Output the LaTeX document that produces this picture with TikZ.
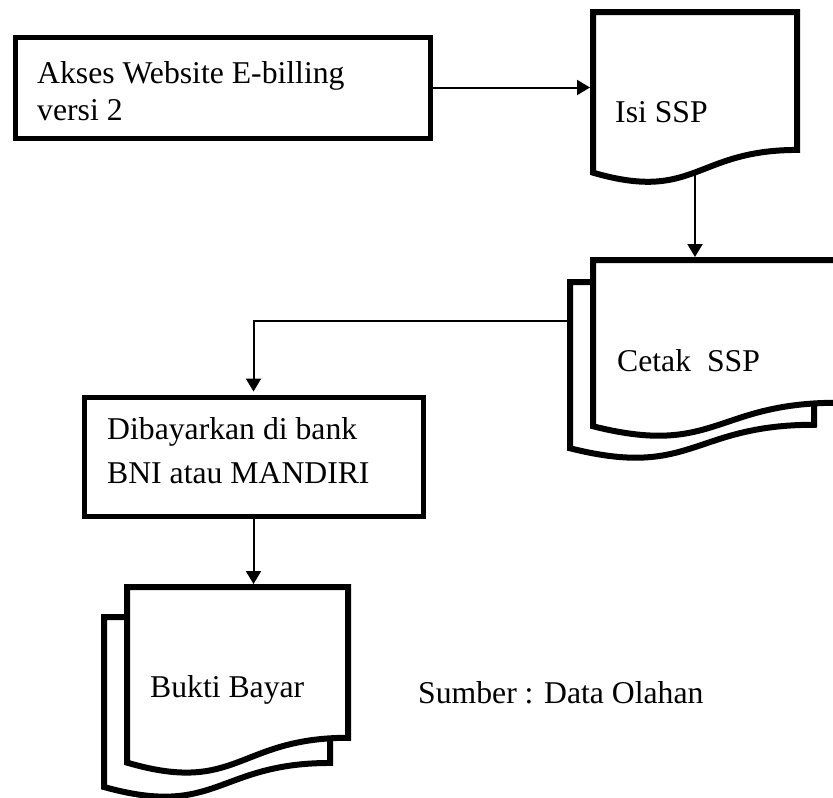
\documentclass[tikz,border=0pt]{standalone}
\usepackage{fontspec}
\setmainfont{Liberation Serif}
\usetikzlibrary{arrows.meta}

% Flowchart "document" symbol: name, left, right, top, height
\newcommand\flowdoc[5]{%
  \pgfmathsetmacro\docR{#4+0.802*#5}%
  \pgfmathsetmacro\docL{#4+0.934*#5}%
  \pgfmathsetmacro\docC{#4+1.107*#5}%
  \pgfmathsetmacro\docM{(#2+#3)/2}%
  \draw[docline] (#2,#4) coordinate (#1-nw) -- (#3,#4) coordinate (#1-ne)
    -- (#3,\docR) .. controls (\docM,\docR) and (\docM,\docC) .. (#2,\docL)
    coordinate[pos=0.5] (#1-s) -- cycle;%
}

\tikzset{
  docline/.style={draw=black, fill=white, line width=6pt, line join=miter},
  procbox/.style={draw=black, fill=white, line width=5pt, inner sep=0pt},
  flow/.style={draw=black, line width=2pt, -{Triangle[length=13pt,width=15pt]}, shorten >=3pt},
  lbl/.style={anchor=base west, inner sep=0pt, align=left, font=\fontsize{31.7}{37}\selectfont},
}

\begin{document}
\begin{tikzpicture}[x=1pt, y=-1pt]
  \useasboundingbox (0,0) rectangle (833,798);

  % process boxes (two-line labels are anchored at the baseline of their last line)
  \node[procbox, minimum width=415pt, minimum height=101pt] (akses) at (222.5,87.5) {};
  \node[lbl] (akses-t) at (37,120) {Akses Website E-billing\\versi 2};

  \node[procbox, minimum width=339pt, minimum height=119pt] (dib) at (253.5,456.5) {};
  \node[lbl, font=\fontsize{31.7}{44}\selectfont] (dib-t) at (107,483) {Dibayarkan di bank\\BNI atau MANDIRI};

  % documents
  \flowdoc{isi}{593}{797}{12}{172}
  \node[lbl] (isi-t) at (615,122) {Isi SSP};

  \flowdoc{cetakb}{570}{814}{282}{178}
  \flowdoc{cetak}{593}{837}{260}{178}
  \node[lbl] (cetak-t) at (617,371) {Cetak\ \ SSP};

  \flowdoc{buktib}{104}{330}{617}{182}
  \flowdoc{bukti}{127}{348}{587}{188}
  \node[lbl] (bukti-t) at (150,697) {Bukti Bayar};

  \node[lbl] (sumber) at (418,703) {Sumber : Data Olahan};

  % connectors
  \coordinate (cetak-w) at (570,321);
  \draw[flow] (akses.east) -- (akses.east -| isi-nw);
  \draw[flow] (isi-s) -- (isi-s |- cetak-nw);
  \draw[flow] (cetak-w) -| (dib.north);
  \draw[flow] (dib.south) -- (dib.south |- bukti-nw);
\end{tikzpicture}
\end{document}
